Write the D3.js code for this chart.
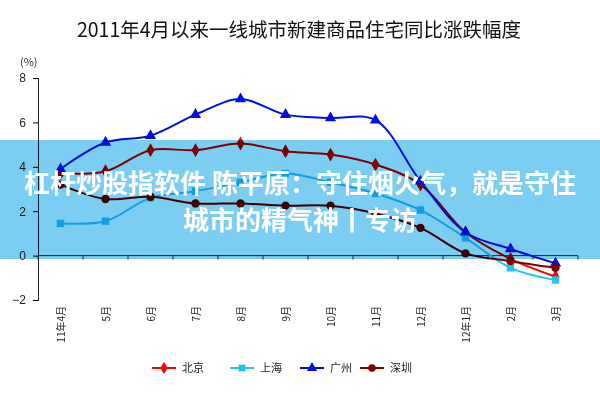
<!DOCTYPE html>
<html><head><meta charset="utf-8">
<script src="https://cdn.jsdelivr.net/npm/d3@7"></script>
<style>body{margin:0;background:#fff}svg{font-family:"Noto Sans CJK SC","DejaVu Sans",sans-serif}</style>
</head><body><svg id="c" width="600" height="400"></svg>
<script>
const categories=["11年4月","5月","6月","7月","8月","9月","10月","11月","12月","12年1月","2月","3月"];
const beijing=[3.7,3.8,4.75,4.75,5.05,4.7,4.55,4.1,3.2,1.05,-0.15,-0.95];
const shanghai=[1.45,1.55,2.6,2.9,3.3,3.7,3.3,2.8,2.05,0.8,-0.55,-1.1];
const guangzhou=[3.9,5.1,5.4,6.35,7.05,6.35,6.2,6.1,3.35,1.05,0.3,-0.35];
const shenzhen=[3.2,2.55,2.65,2.35,2.35,2.25,2.25,1.9,1.25,0.1,-0.25,-0.55];
const yTicks=[-2,0,2,4,6,8];
const series=[
 {name:"北京",data:beijing,color:"#ff0000",shape:"diamond"},
 {name:"上海",data:shanghai,color:"#22c4f0",shape:"square"},
 {name:"广州",data:guangzhou,color:"#0010e0",shape:"triangle"},
 {name:"深圳",data:shenzhen,color:"#800000",shape:"circle"}];
const svg=d3.select("#c");
const x=d3.scaleBand().domain(categories).range([38,578]);
const y=d3.scaleLinear().domain([-2,8]).range([300,78]);
svg.append("text").attr("x",299).attr("y",37).attr("text-anchor","middle").attr("font-size",19.5).attr("fill","#111").text("2011年4月以来一线城市新建商品住宅同比涨跌幅度");
svg.append("text").attr("x",20).attr("y",66).attr("font-size",11).attr("fill","#333").text("(%)");
const ya=svg.append("g").attr("transform","translate(38,0)").call(d3.axisLeft(y).tickValues(yTicks).tickSize(5).tickFormat(d3.format("d")));
ya.selectAll("text").attr("font-size",12).attr("fill","#222").attr("x",-12);
ya.select(".domain").attr("stroke","#222");
const xa=svg.append("g").attr("transform",`translate(0,${y(0)})`);
xa.append("line").attr("x1",38).attr("x2",578).attr("stroke","#333");
xa.selectAll("line.t").data(categories.concat([null])).join("line").attr("class","t")
 .attr("x1",(d,i)=>38+i*x.step()).attr("x2",(d,i)=>38+i*x.step()).attr("y1",0).attr("y2",4).attr("stroke","#333");
svg.selectAll("text.xl").data(categories).join("text").attr("class","xl")
 .attr("transform",d=>`translate(${x(d)+x.bandwidth()/2+4},306) rotate(-90)`)
 .attr("text-anchor","end").attr("font-size",10).attr("fill","#222").text(d=>d);
const line=d3.line().x((d,i)=>x(categories[i])+x.bandwidth()/2).y(d=>y(d)).curve(d3.curveCatmullRom);
const sym={diamond:d3.symbolDiamond,square:d3.symbolSquare,triangle:d3.symbolTriangle,circle:d3.symbolCircle};
series.forEach(s=>{
 svg.append("path").attr("d",line(s.data)).attr("fill","none").attr("stroke",s.color).attr("stroke-width",2);
 svg.selectAll(null).data(s.data).join("path").attr("d",d3.symbol(sym[s.shape],55)())
  .attr("transform",(d,i)=>`translate(${x(categories[i])+x.bandwidth()/2},${y(d)})`).attr("fill",s.color);
});
const lg=svg.append("g");
const lx=[152,230,300,360];
series.forEach((s,i)=>{
 const g=lg.append("g").attr("transform",`translate(${lx[i]},368)`);
 g.append("line").attr("x1",0).attr("x2",24).attr("stroke",s.color).attr("stroke-width",2);
 g.append("path").attr("d",d3.symbol(sym[s.shape],45)()).attr("transform","translate(12,0)").attr("fill",s.color);
 g.append("text").attr("x",30).attr("y",4).attr("font-size",11).attr("fill","#222").text(s.name);
});
svg.append("rect").attr("x",0).attr("y",140).attr("width",600).attr("height",119).attr("fill","#7ccdf2").style("mix-blend-mode","multiply");
svg.append("text").attr("x",300).attr("y",193).attr("text-anchor","middle").attr("font-size",26).attr("font-weight","bold").attr("fill","#fff").text("杠杆炒股指软件 陈平原：守住烟火气，就是守住");
svg.append("text").attr("x",300).attr("y",230).attr("text-anchor","middle").attr("font-size",26).attr("font-weight","bold").attr("fill","#fff").text("城市的精气神丨专访");
</script></body></html>
